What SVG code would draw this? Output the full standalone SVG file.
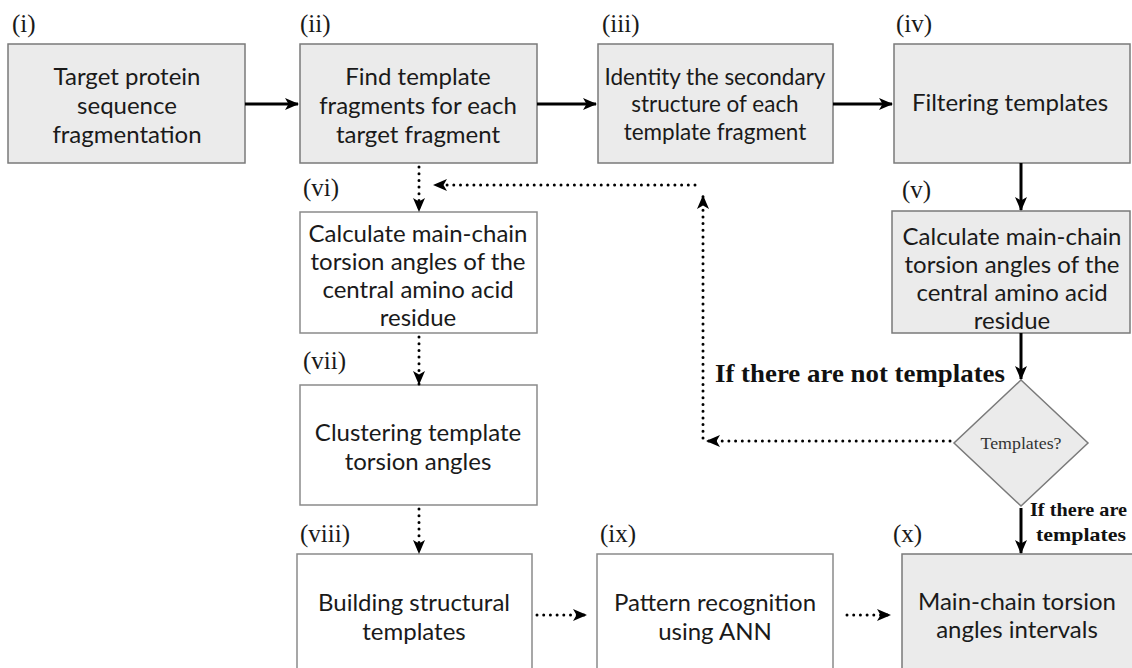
<svg xmlns="http://www.w3.org/2000/svg" width="1132" height="668" viewBox="0 0 1132 668">
<style>
.g{fill:#ebebeb;stroke:#7a7a7a;stroke-width:1.5}
.w{fill:#ffffff;stroke:#8a8a8a;stroke-width:1.5}
.t{font-family:Lato,"Open Sans",sans-serif;font-size:24px;fill:#1a1a1a;text-anchor:middle}
.lab{font-family:"Liberation Serif",serif;font-size:25px;fill:#1a1a1a}
.solid{stroke:#000;stroke-width:3;fill:none}
.dot{stroke:#000;stroke-width:3;fill:none;stroke-linecap:round;stroke-dasharray:0 6.7}
.b{font-family:"Liberation Serif",serif;font-weight:bold;fill:#111}
</style>
<defs>
<marker id="ah" markerUnits="userSpaceOnUse" markerWidth="14" markerHeight="14" viewBox="0 0 14 14" refX="13" refY="7" orient="auto">
<path d="M0,1 L14,7 L0,13 L3.5,7 z" fill="#000"/>
</marker>
</defs>
<rect width="1132" height="668" fill="#fff"/>

<g id="n1"><text class="lab" x="12" y="32">(i)</text><rect class="g" x="8" y="44" width="237" height="119"/>
<text class="t" x="127" y="85">Target protein</text><text class="t" x="127" y="114">sequence</text><text class="t" x="127" y="143">fragmentation</text></g>

<g id="n2"><text class="lab" x="300" y="32">(ii)</text><rect class="g" x="300" y="44" width="237" height="119"/>
<text class="t" x="418" y="85">Find template</text><text class="t" x="418" y="114">fragments for each</text><text class="t" x="418" y="143">target fragment</text></g>

<g id="n3"><text class="lab" x="602" y="32">(iii)</text><rect class="g" x="598" y="44" width="235" height="119"/>
<text class="t" x="715" y="85" style="font-size:22.5px">Identity the secondary</text><text class="t" x="715" y="112" style="font-size:22.5px">structure of each</text><text class="t" x="715" y="140" style="font-size:22.5px">template fragment</text></g>

<g id="n4"><text class="lab" x="896" y="32">(iv)</text><rect class="g" x="894" y="44" width="236" height="119"/>
<text class="t" x="1010" y="111">Filtering templates</text></g>

<g id="n5"><text class="lab" x="902" y="198">(v)</text><rect class="g" x="892" y="211" width="238" height="122"/>
<text class="t" x="1012" y="245">Calculate main-chain</text><text class="t" x="1012" y="273">torsion angles of the</text><text class="t" x="1012" y="301">central amino acid</text><text class="t" x="1012" y="329">residue</text></g>

<g id="n6"><text class="lab" x="303" y="196">(vi)</text><rect class="w" x="300" y="212" width="237" height="121"/>
<text class="t" x="418" y="242">Calculate main-chain</text><text class="t" x="418" y="270">torsion angles of the</text><text class="t" x="418" y="298">central amino acid</text><text class="t" x="418" y="326">residue</text></g>

<g id="n7"><text class="lab" x="303" y="369">(vii)</text><rect class="w" x="300" y="385" width="237" height="120"/>
<text class="t" x="418" y="441">Clustering template</text><text class="t" x="418" y="470">torsion angles</text></g>

<g id="n8"><text class="lab" x="300" y="542">(viii)</text><rect class="w" x="297" y="554" width="235" height="130"/>
<text class="t" x="414" y="611">Building structural</text><text class="t" x="414" y="640">templates</text></g>

<g id="n9"><text class="lab" x="600" y="542">(ix)</text><rect class="w" x="597" y="554" width="236" height="130"/>
<text class="t" x="715" y="611">Pattern recognition</text><text class="t" x="715" y="640">using ANN</text></g>

<g id="n10"><text class="lab" x="893" y="542">(x)</text><rect class="g" x="902" y="554" width="240" height="130"/>
<text class="t" x="1017" y="610">Main-chain torsion</text><text class="t" x="1017" y="638">angles intervals</text></g>

<g id="n11"><polygon class="g" points="1021,380 1088,443 1021,506 954,443"/>
<text x="1021" y="449" text-anchor="middle" font-family="Liberation Serif,serif" font-size="16" fill="#333" textLength="81" lengthAdjust="spacingAndGlyphs">Templates?</text></g>

<g id="connectors">
<line class="solid" x1="245" y1="104" x2="298" y2="104" marker-end="url(#ah)"/>
<line class="solid" x1="537" y1="104" x2="596" y2="104" marker-end="url(#ah)"/>
<line class="solid" x1="833" y1="104" x2="892" y2="104" marker-end="url(#ah)"/>
<line class="solid" x1="1021" y1="163" x2="1021" y2="210" marker-end="url(#ah)"/>
<line class="solid" x1="1021" y1="333" x2="1021" y2="379" marker-end="url(#ah)"/>
<line class="solid" x1="1021" y1="508" x2="1021" y2="553" marker-end="url(#ah)"/>
<line class="dot" x1="419" y1="167" x2="419" y2="211" marker-end="url(#ah)"/>
<line class="dot" x1="419" y1="337" x2="419" y2="384" marker-end="url(#ah)"/>
<line class="dot" x1="419" y1="509" x2="419" y2="553" marker-end="url(#ah)"/>
<line class="dot" x1="695" y1="185" x2="434" y2="185" marker-end="url(#ah)"/>
<line class="dot" x1="703" y1="438" x2="703" y2="196" marker-end="url(#ah)"/>
<line class="dot" x1="950" y1="441" x2="707" y2="441" marker-end="url(#ah)"/>
<line class="dot" x1="537" y1="615" x2="586" y2="615" marker-end="url(#ah)"/>
<line class="dot" x1="847" y1="615" x2="890" y2="615" marker-end="url(#ah)"/>
</g>

<g id="labels">
<text class="b" x="715" y="382" font-size="25" textLength="290" lengthAdjust="spacingAndGlyphs">If there are not templates</text>
<text class="b" x="1030" y="516" font-size="19" textLength="97" lengthAdjust="spacingAndGlyphs">If there are</text>
<text class="b" x="1036" y="541" font-size="19" textLength="90" lengthAdjust="spacingAndGlyphs">templates</text>
</g>
</svg>
